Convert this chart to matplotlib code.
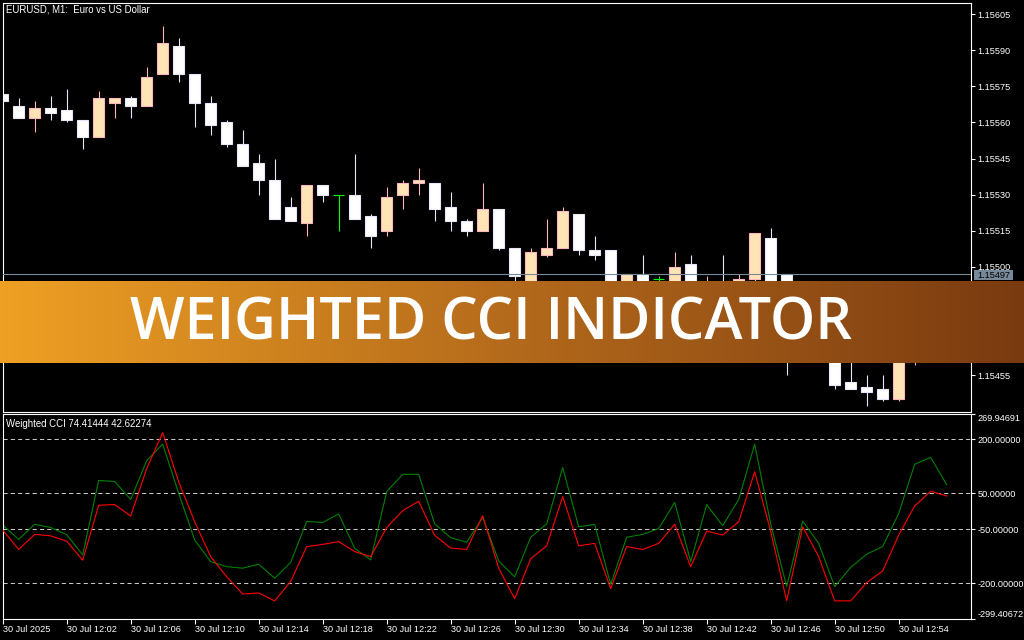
import numpy as np
import matplotlib.pyplot as plt
from matplotlib.patches import Rectangle
from matplotlib.colors import LinearSegmentedColormap

# EURUSD M1 bars (60 one-minute candles)
opens = [1.15572, 1.15567, 1.15562, 1.15566, 1.15565, 1.15561, 1.15554, 1.15568, 1.15570, 1.15567,
         1.15580, 1.15592, 1.15580, 1.15568, 1.15560, 1.15551, 1.15543, 1.15536, 1.15525, 1.15518,
         1.15534, 1.15530, 1.15530, 1.15521, 1.15515, 1.15530, 1.15535, 1.15535, 1.15525, 1.15519,
         1.15515, 1.15524, 1.15508, 1.15492, 1.15505, 1.15508, 1.15522, 1.15507, 1.15507, 1.15492,
         1.15497, 1.15495, 1.15492, 1.15501, 1.15488, 1.15492, 1.15490, 1.15495, 1.15512, 1.15497,
         1.15465, 1.15474, 1.15466, 1.15452, 1.15450, 1.15449, 1.15445, 1.15466, 1.15478, 1.15487]
highs = [1.15572, 1.15570, 1.15569, 1.15571, 1.15574, 1.15561, 1.15573, 1.15570, 1.15571, 1.15583,
         1.15600, 1.15595, 1.15580, 1.15571, 1.15561, 1.15557, 1.15547, 1.15545, 1.15529, 1.15534,
         1.15534, 1.15530, 1.15547, 1.15522, 1.15533, 1.15536, 1.15541, 1.15535, 1.15531, 1.15520,
         1.15535, 1.15524, 1.15508, 1.15508, 1.15520, 1.15525, 1.15522, 1.15513, 1.15507, 1.15497,
         1.15505, 1.15496, 1.15506, 1.15505, 1.15496, 1.15505, 1.15497, 1.15514, 1.15516, 1.15497,
         1.15476, 1.15477, 1.15468, 1.15461, 1.15455, 1.15455, 1.15472, 1.15482, 1.15490, 1.15494]
lows = [1.15569, 1.15562, 1.15556, 1.15561, 1.15560, 1.15549, 1.15554, 1.15562, 1.15562, 1.15567,
        1.15580, 1.15577, 1.15558, 1.15555, 1.15550, 1.15542, 1.15530, 1.15520, 1.15519, 1.15513,
        1.15527, 1.15515, 1.15520, 1.15508, 1.15513, 1.15524, 1.15530, 1.15519, 1.15515, 1.15513,
        1.15515, 1.15507, 1.15493, 1.15490, 1.15504, 1.15508, 1.15505, 1.15503, 1.15488, 1.15490,
        1.15491, 1.15492, 1.15490, 1.15487, 1.15486, 1.15484, 1.15488, 1.15493, 1.15492, 1.15455,
        1.15463, 1.15462, 1.15449, 1.15449, 1.15442, 1.15444, 1.15444, 1.15459, 1.15476, 1.15485]
closes = [1.15569, 1.15562, 1.15566, 1.15564, 1.15561, 1.15554, 1.15570, 1.15570, 1.15567, 1.15579,
          1.15593, 1.15580, 1.15568, 1.15559, 1.15551, 1.15542, 1.15536, 1.15520, 1.15519, 1.15534,
          1.15530, 1.15530, 1.15520, 1.15513, 1.15529, 1.15535, 1.15536, 1.15524, 1.15519, 1.15515,
          1.15524, 1.15508, 1.15496, 1.15506, 1.15508, 1.15523, 1.15507, 1.15505, 1.15490, 1.15497,
          1.15493, 1.15495, 1.15500, 1.15490, 1.15493, 1.15486, 1.15495, 1.15514, 1.15493, 1.15463,
          1.15474, 1.15465, 1.15451, 1.15449, 1.15448, 1.15445, 1.15470, 1.15480, 1.15488, 1.15492]
bid = 1.15497

# Weighted CCI buffers
cci_green = [-38, -78, -36, -45, -65, -121, 86, 83, 33, 141,
             187, 50, -80, -140, -154, -158, -147, -186, -142, -28,
             -31, -7, -103, -135, 55, 103, 103, -35, -73, -86,
             -17, -138, -182, -72, -35, 122, -43, -36, -203, -72,
             -64, -48, 25, -140, 19, -40, 33, 187, -35, -209,
             -27, -89, -209, -156, -119, -98, -6, 131, 150, 74.41444]
cci_red = [-52, -106, -64, -68, -83, -136, 17, 19, -13, 119,
           219, 82, -29, -126, -182, -230, -227, -249, -195, -98,
           -92, -84, -112, -126, -45, 2, 28, -67, -102, -106,
           -12, -158, -243, -132, -96, 41, -96, -89, -215, -98,
           -106, -89, -36, -154, -55, -66, -29, 110, -55, -249,
           -43, -126, -249, -249, -198, -166, -66, 15, 56, 42.62274]
levels = [200, 50, -50, -200]
cci_min, cci_max = -299.40672, 269.94691

price_ticks = [1.15455, 1.15470, 1.15485, 1.15500, 1.15515, 1.15530,
               1.15545, 1.15560, 1.15575, 1.15590, 1.15605]
time_ticks = [0, 4, 8, 12, 16, 20, 24, 28, 32, 36, 40, 44, 48, 52, 56]
time_labels = ['30 Jul 2025', '30 Jul 12:02', '30 Jul 12:06', '30 Jul 12:10', '30 Jul 12:14',
               '30 Jul 12:18', '30 Jul 12:22', '30 Jul 12:26', '30 Jul 12:30', '30 Jul 12:34',
               '30 Jul 12:38', '30 Jul 12:42', '30 Jul 12:46', '30 Jul 12:50', '30 Jul 12:54']

W, H = 1024, 640
FONT = 'Liberation Sans'
FS = 6.6
plt.rcParams['font.family'] = FONT

fig = plt.figure(figsize=(W / 100, H / 100), dpi=100, facecolor='black')


def px_axes(left, top, right, bottom):
    return fig.add_axes([left / W, 1 - bottom / H, (right - left) / W, (bottom - top) / H])


def style_axes(ax):
    ax.set_facecolor('black')
    for sp in ax.spines.values():
        sp.set_color('white')
        sp.set_linewidth(0.8)
    ax.yaxis.tick_right()
    ax.tick_params(axis='y', colors='white', labelcolor='white', labelsize=FS,
                   length=3, width=0.8, pad=1.5)
    for lab in ax.get_yticklabels():
        lab.set_horizontalalignment('left')


# --- price panel ---
ax = px_axes(2.7, 2.7, 971, 412.3)
n = len(opens)
x = np.arange(n)
bw = 0.66
for i in range(n):
    o, h, l, c = opens[i], highs[i], lows[i], closes[i]
    if c > o:
        fc, ec = '#FFE4B5', '#FFB6C1'
    elif c < o:
        fc, ec = 'white', '#E6E6FA'
    else:
        fc, ec = None, '#00FF00'
    ax.vlines(x[i], l, h, color=ec, lw=0.8, zorder=2)
    if fc is None:
        ax.hlines(o, x[i] - bw / 2, x[i] + bw / 2, color=ec, lw=0.8, zorder=3)
    else:
        ax.add_patch(Rectangle((x[i] - bw / 2, min(o, c)), bw, abs(c - o),
                               facecolor=fc, edgecolor=ec, lw=0.8, zorder=3))

ax.axhline(bid, color='#778899', lw=0.8, zorder=4)
ax.set_xlim(0, 60.52)
ax.set_ylim(1.154395, 1.156098)
ax.set_xticks([])
ax.set_yticks(price_ticks)
ax.set_yticklabels(['%.5f' % p for p in price_ticks])
style_axes(ax)

fig.patches.append(Rectangle((974 / W, 1 - 280 / H), 39 / W, 10 / H, transform=fig.transFigure,
                             facecolor='#778899', edgecolor='none', zorder=5))
fig.text(993.5 / W, 1 - 275.3 / H, '%.5f' % bid, color='black', fontsize=FS,
         ha='center', va='center', zorder=6)
fig.text(6.5 / W, 1 - 9 / H, 'EURUSD, M1:  Euro vs US Dollar', color='white', fontsize=FS + 0.3,
         va='center')

# --- indicator panel ---
ax2 = px_axes(2.7, 414.3, 971, 619)
for lv in levels:
    ax2.axhline(lv, color='#C8C8C8', lw=0.75, ls=(0, (4, 3)), zorder=1)
ax2.plot(x, cci_green, color='#008000', lw=0.8, zorder=2)
ax2.plot(x, cci_red, color='#FF0000', lw=0.8, zorder=3)
ax2.set_xlim(0, 60.52)
ax2.set_ylim(cci_min, cci_max)
yt = [cci_max] + levels + [cci_min]
ax2.set_yticks(yt)
ax2.set_yticklabels(['%.5f' % v for v in yt])
ax2.set_xticks(time_ticks)
ax2.set_xticklabels(time_labels)
ax2.tick_params(axis='x', colors='white', labelcolor='white', labelsize=FS,
                length=3.5, width=0.8, pad=1)
for lab in ax2.get_xticklabels():
    lab.set_horizontalalignment('left')
style_axes(ax2)
labs = ax2.get_yticklabels()
labs[0].set_verticalalignment('top')
labs[-1].set_verticalalignment('bottom')
fig.text(6.5 / W, 1 - 423.7 / H, 'Weighted CCI 74.41444 42.62274', color='white',
         fontsize=FS + 0.3, va='center')

# --- title banner ---
axb = px_axes(0, 281, W, 363)
cmap = LinearSegmentedColormap.from_list('banner', ['#EEA024', '#B46A1C', '#7A3A10'])
axb.imshow(np.linspace(0, 1, 512)[None, :], aspect='auto', cmap=cmap, extent=[0, 1, 0, 1])
axb.set_xlim(0, 1)
axb.set_ylim(0, 1)
axb.axis('off')
axb.text(491 / W, (363 - 339) / 82, 'WEIGHTED CCI INDICATOR', color='white',
         fontsize=41.5, fontweight='semibold', family='Open Sans', ha='center', va='baseline')

fig.savefig('out.png', dpi=100, facecolor='black')
